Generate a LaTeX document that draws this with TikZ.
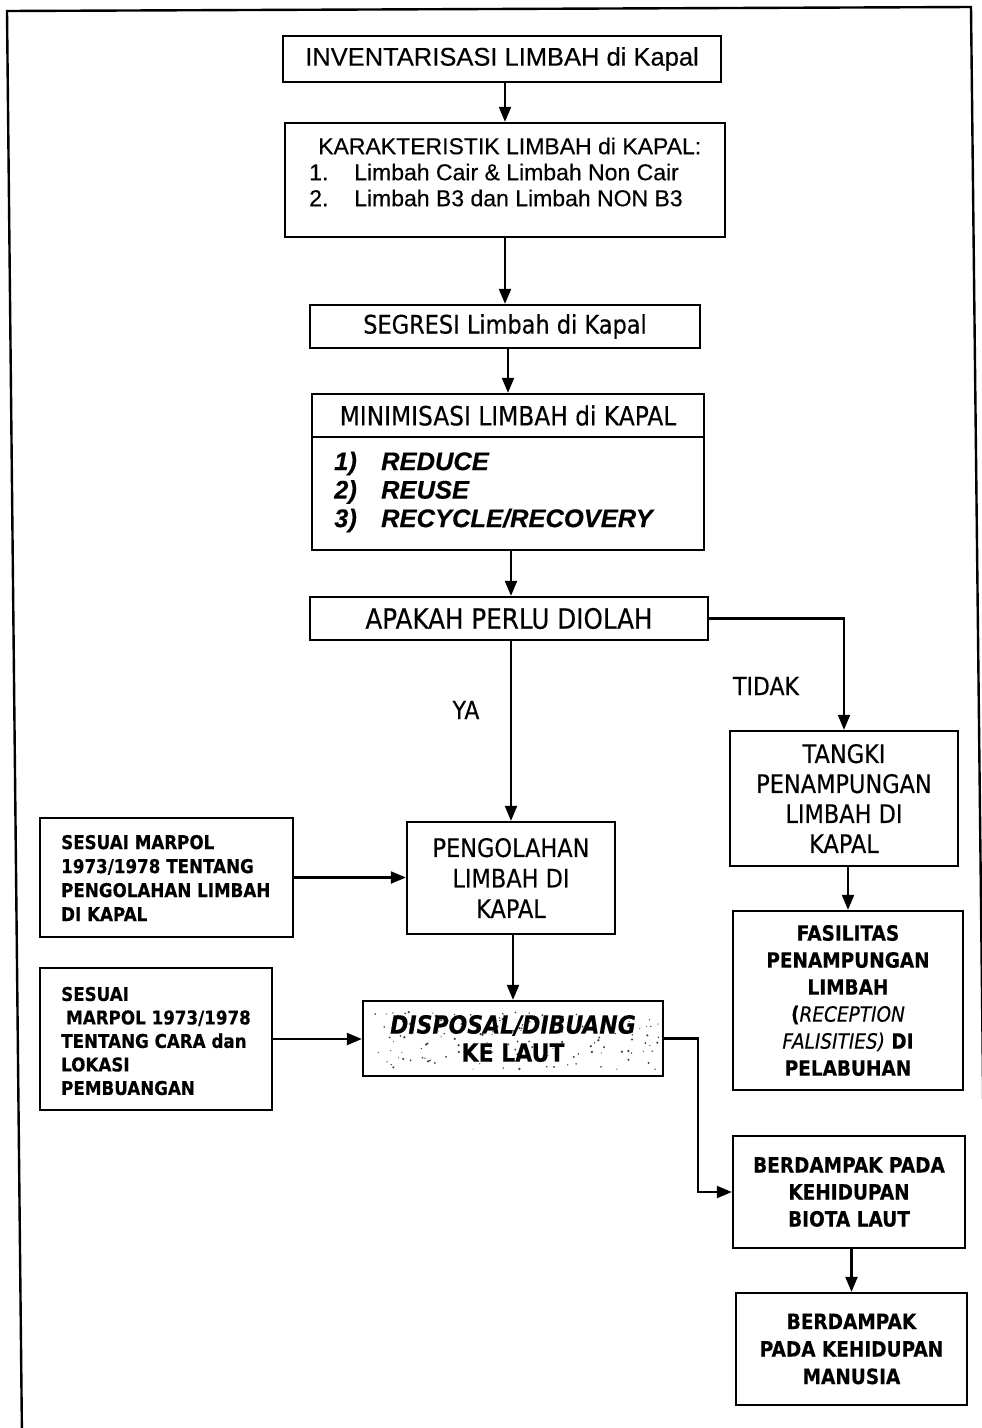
\documentclass[tikz,border=0pt]{standalone}
\usepackage{fontspec}
\usetikzlibrary{arrows.meta}
\newfontfamily\arialf[FakeBold=0.35]{Liberation Sans}
\newfontfamily\tahf[FakeStretch=0.88,FakeBold=0.35]{DejaVu Sans}
\newcommand\fs[2]{\fontsize{#1}{#2}\selectfont}
\begin{document}
\begin{tikzpicture}[x=1pt,y=-1pt,
  box/.style={draw, line width=2.3pt, inner sep=0pt, align=center},
  txt/.style={inner sep=0pt, align=left},
  arr/.style={line width=2.1pt, -{Triangle[length=15pt,width=12pt]}},
  lbl/.style={inner sep=0pt, font=\tahf\fs{25}{28}}]
\useasboundingbox (0,0) rectangle (982,1428);
\clip (0,0) rectangle (982,1428);

% page frame
\draw[line width=2.4pt] (22,1440) -- (7,11) -- (971,7) -- (987,1440);

% main column
\node[box, minimum width=438pt, minimum height=46pt, font=\arialf\fs{25.5}{30}] (inv) at (502,59) {INVENTARISASI LIMBAH di Kapal};

\node[box, minimum width=440pt, minimum height=114pt] (kar) at (505,180) {};
\node[txt, anchor=west, font=\arialf\fs{23}{26}] (karText) at (309,172)
  {\hspace*{9pt}KARAKTERISTIK LIMBAH di KAPAL:\\
   \makebox[45pt][l]{1.}Limbah Cair \& Limbah Non Cair\\
   \makebox[45pt][l]{2.}Limbah B3 dan Limbah NON B3};

\node[box, minimum width=390pt, minimum height=43pt, font=\tahf\fs{25.5}{30}] (seg) at (505,326.5) {SEGRESI Limbah di Kapal};

\node[box, minimum width=392pt, minimum height=43pt, font=\tahf\fs{26.5}{30}] (miniHead) at (508,415.5) {MINIMISASI LIMBAH di KAPAL};
\node[box, minimum width=392pt, minimum height=113pt] (miniBody) at (508,493.5) {};
\node[txt, anchor=west, font=\arialf\bfseries\itshape\fs{25.5}{28.5}] (miniList) at (334,492)
  {\makebox[47pt][l]{1)}REDUCE\\
   \makebox[47pt][l]{2)}REUSE\\
   \makebox[47pt][l]{3)}RECYCLE/RECOVERY};

\node[box, minimum width=398pt, minimum height=43pt, font=\tahf\fs{28}{30}] (apa) at (509,618.5) {APAKAH PERLU DIOLAH};

\node[lbl] (ya) at (466,710) {YA};
\node[lbl] (tidak) at (766,686) {TIDAK};

\node[box, minimum width=228pt, minimum height=135pt, font=\tahf\fs{25.5}{30}] (tangki) at (844,798.5)
  {TANGKI\\PENAMPUNGAN\\LIMBAH DI\\KAPAL};

\node[box, minimum width=230pt, minimum height=179pt, font=\tahf\bfseries\fs{21}{27}] (fas) at (848,1000.5)
  {FASILITAS\\PENAMPUNGAN\\LIMBAH\\({\mdseries\itshape RECEPTION}\\{\mdseries\itshape FALISITIES)} DI\\PELABUHAN};

\node[box, minimum width=208pt, minimum height=112pt, font=\tahf\fs{25.5}{30.5}] (peng) at (511,878)
  {PENGOLAHAN\\LIMBAH DI\\KAPAL};

% regulation boxes on the left
\node[box, minimum width=253pt, minimum height=119pt] (ses1) at (166.5,877.5) {};
\node[txt, anchor=west, font=\tahf\bfseries\fs{19}{24}] (ses1Text) at (61,878)
  {SESUAI MARPOL\\1973/1978 TENTANG\\PENGOLAHAN LIMBAH\\DI KAPAL};

\node[box, minimum width=232pt, minimum height=142pt] (ses2) at (156,1039) {};
\node[txt, anchor=west, font=\tahf\bfseries\fs{19}{23.5}] (ses2Text) at (61,1041)
  {SESUAI\\\hspace*{5pt}MARPOL 1973/1978\\TENTANG CARA dan\\LOKASI\\PEMBUANGAN};

% disposal box with its speckled print
\pgfmathsetseed{42}
\foreach \i in {1,...,140}{
  \pgfmathsetmacro\px{368+rnd*292}
  \pgfmathsetmacro\py{1012+rnd*58}
  \pgfmathsetmacro\pr{0.5+rnd*0.8}
  \fill[black!75] (\px,\py) circle (\pr pt);
}
\node[box, minimum width=300pt, minimum height=75pt, font=\tahf\bfseries\fs{25}{28}] (disp) at (513,1038.5)
  {{\itshape DISPOSAL/DIBUANG}\\KE LAUT};

% effects column
\node[box, minimum width=232pt, minimum height=112pt, font=\tahf\bfseries\fs{21}{27}] (bd1) at (849,1192)
  {BERDAMPAK PADA\\KEHIDUPAN\\BIOTA LAUT};
\node[box, minimum width=231pt, minimum height=112pt, font=\tahf\bfseries\fs{21}{27.5}] (bd2) at (851.5,1349)
  {BERDAMPAK\\PADA KEHIDUPAN\\MANUSIA};

% connectors
\draw[arr] (kar.north |- inv.south) -- (kar.north);
\draw[arr] (seg.north |- kar.south) -- (seg.north);
\draw[arr] (miniHead.north |- seg.south) -- (miniHead.north);
\draw[arr] ([xshift=2pt]apa.north |- miniBody.south) -- ([xshift=2pt]apa.north);
\draw[arr] (peng.north |- apa.south) -- (peng.north);
\draw[arr] (apa.east) -| (tangki.north);
\draw[arr] (fas.north |- tangki.south) -- (fas.north);
\draw[arr] (ses1.east) -- (ses1.east -| peng.west);
\draw[arr] (disp.north |- peng.south) -- (disp.north);
\draw[arr] (ses2.east) -- (ses2.east -| disp.west);
\draw[arr] (disp.east) -- ++(34,0) |- (bd1.west);
\draw[arr] (bd2.north |- bd1.south) -- (bd2.north);
\end{tikzpicture}
\end{document}
